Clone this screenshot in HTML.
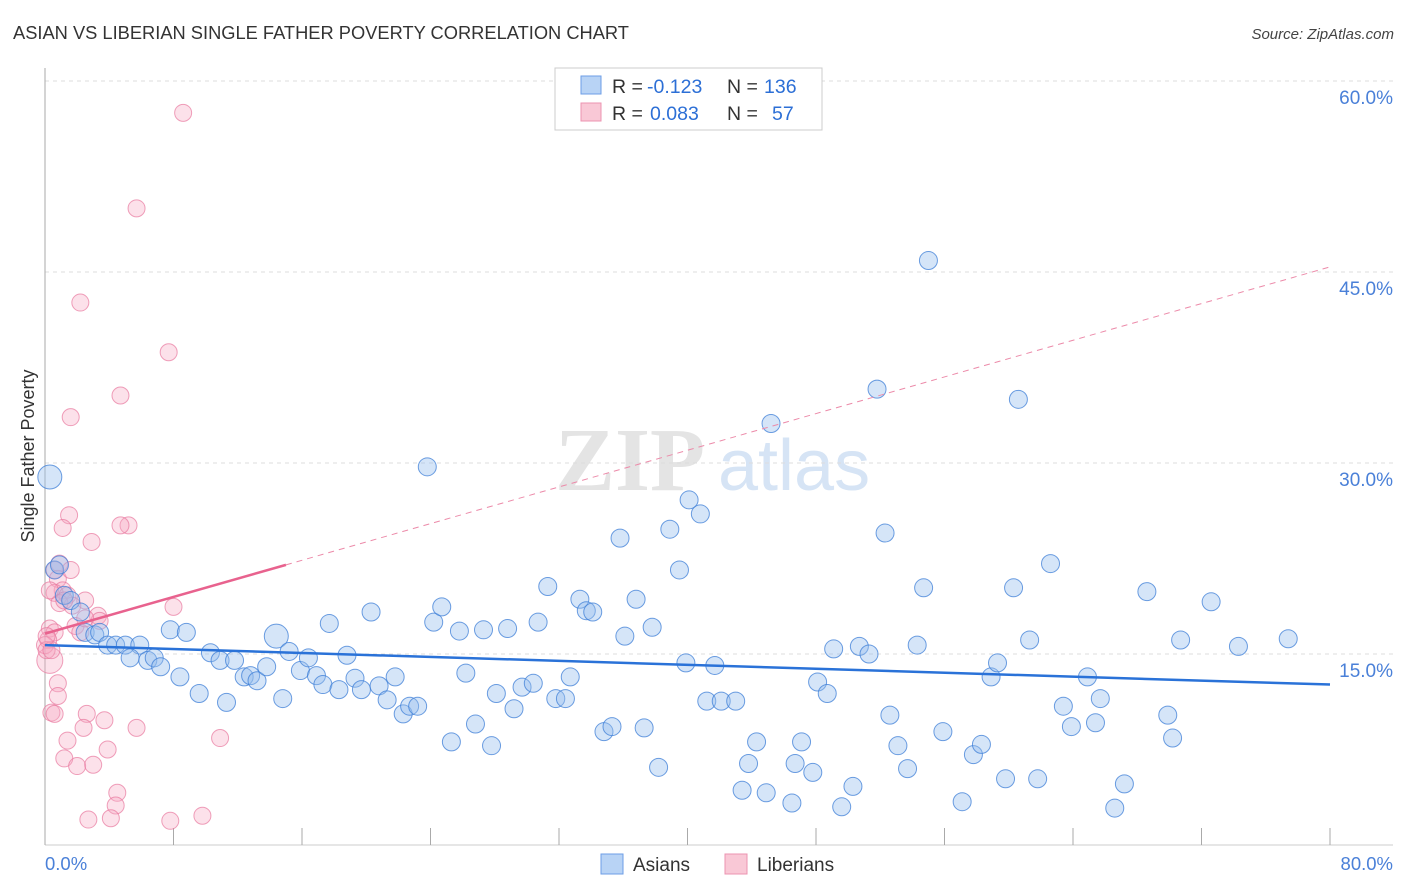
<!DOCTYPE html>
<html><head><meta charset="utf-8"><style>
body{margin:0;background:#fff;font-family:"Liberation Sans",sans-serif;}
svg{display:block}
</style></head><body>
<svg id="chart" width="1406" height="892" xmlns="http://www.w3.org/2000/svg">
<text x="13" y="39" font-size="18.3" fill="#333" font-family="Liberation Sans">ASIAN VS LIBERIAN SINGLE FATHER POVERTY CORRELATION CHART</text>
<text x="1394" y="39" font-size="15" fill="#444" font-style="italic" text-anchor="end">Source: ZipAtlas.com</text>
<g>
<text x="555" y="490" font-size="90" fill="#e4e4e4" font-family="Liberation Serif" font-weight="bold">ZIP</text>
<text x="718" y="490" font-size="72" fill="#d6e4f5">atlas</text>
</g>
<g id="grid"></g>
<g id="axes"></g>
<g id="pts"></g>
<g id="trends"></g>
<text transform="translate(34,456) rotate(-90)" font-size="18" fill="#333" text-anchor="middle">Single Father Poverty</text>
<g>
<rect x="555" y="68" width="267" height="62" fill="#fff" stroke="#ccc"/>
<rect x="581" y="76" width="20" height="18" fill="#b8d3f5" stroke="#6d9ee6"/>
<rect x="581" y="103" width="20" height="18" fill="#f9c8d6" stroke="#ec93b0"/>
<text x="612" y="93" font-size="19.5" fill="#333">R =</text>
<text x="647" y="93" font-size="19.5" fill="#2c6fd6">-0.123</text>
<text x="727" y="93" font-size="19.5" fill="#333">N =</text>
<text x="764" y="93" font-size="19.5" fill="#2c6fd6">136</text>
<text x="612" y="120" font-size="19.5" fill="#333">R =</text>
<text x="650" y="120" font-size="19.5" fill="#2c6fd6">0.083</text>
<text x="727" y="120" font-size="19.5" fill="#333">N =</text>
<text x="772" y="120" font-size="19.5" fill="#2c6fd6">57</text>
</g>
<g>
<rect x="601" y="854" width="22" height="20" fill="#b8d3f5" stroke="#6d9ee6"/>
<text x="633" y="871" font-size="19" fill="#333">Asians</text>
<rect x="725" y="854" width="22" height="20" fill="#f9c8d6" stroke="#ec93b0"/>
<text x="757" y="871" font-size="19" fill="#333">Liberians</text>
</g>
</svg>
<script>
const xTickVals=[0,8,16,24,32,40,48,56,64,72,80];
const yTickVals=[15,30,45,60];
const yTickLabels=["15.0%","30.0%","45.0%","60.0%"];
const xEndLabels=["0.0%","80.0%"];
const asianX=[0.3,0.6,0.9,1.2,1.6,2.2,2.5,3.1,3.4,3.9,4.4,5.0,5.9,5.3,6.4,6.8,7.2,7.8,8.4,8.8,9.6,10.3,10.9,11.3,11.8,12.4,12.8,13.2,13.8,14.4,14.8,15.2,15.9,16.4,16.9,17.3,17.7,18.3,18.8,19.3,19.7,20.3,20.8,21.3,21.8,22.3,22.7,23.2,23.8,24.2,24.7,25.3,25.8,26.2,26.8,27.3,27.8,28.1,28.8,29.2,29.7,30.4,30.7,31.3,31.8,32.4,32.7,33.3,33.7,34.1,34.8,35.3,35.8,36.1,36.8,37.3,37.8,38.2,38.9,39.5,39.9,40.1,40.8,41.2,41.7,42.1,43.0,43.4,43.8,44.3,44.9,45.2,46.5,46.7,47.1,47.8,48.1,48.7,49.1,49.6,50.3,50.7,51.3,51.8,52.3,52.6,53.1,53.7,54.3,54.7,55.0,55.9,57.1,57.8,58.3,58.9,59.3,59.8,60.3,60.6,61.3,61.8,62.6,63.4,63.9,64.9,65.4,65.7,66.6,67.2,68.6,69.9,70.2,70.7,72.6,74.3,77.4];
const asianY=[28.9,21.6,22.0,19.6,19.2,18.3,16.7,16.5,16.7,15.7,15.7,15.7,15.7,14.7,14.5,14.7,14.0,16.9,13.2,16.7,11.9,15.1,14.5,11.2,14.5,13.2,13.3,12.9,14.0,16.4,11.5,15.2,13.7,14.7,13.3,12.6,17.4,12.2,14.9,13.1,12.2,18.3,12.5,11.4,13.2,10.3,10.9,10.9,29.7,17.5,18.7,8.1,16.8,13.5,9.5,16.9,7.8,11.9,17.0,10.7,12.4,12.7,17.5,20.3,11.5,11.5,13.2,19.3,18.4,18.3,8.9,9.3,24.1,16.4,19.3,9.2,17.1,6.1,24.8,21.6,14.3,27.1,26.0,11.3,14.1,11.3,11.3,4.3,6.4,8.1,4.1,33.1,3.3,6.4,8.1,5.7,12.8,11.9,15.4,3.0,4.6,15.6,15.0,35.8,24.5,10.2,7.8,6.0,15.7,20.2,45.9,8.9,3.4,7.1,7.9,13.2,14.3,5.2,20.2,35.0,16.1,5.2,22.1,10.9,9.3,13.2,9.6,11.5,2.9,4.8,19.9,10.2,8.4,16.1,19.1,15.6,16.2];
const asianBig=[0,29];
const libX=[8.6,5.7,2.2,7.7,4.7,1.6,5.2,4.7,1.5,1.1,2.9,0.9,0.6,0.8,1.1,0.6,1.4,2.5,1.7,3.3,8.0,1.9,2.2,0.3,0.6,0.2,0.3,0.8,0.8,0.4,0.6,2.6,3.7,2.4,5.7,10.9,1.4,1.2,2.0,3.0,3.9,4.5,4.4,2.7,4.1,7.8,9.8,0.9,0.3,1.6,0.0,0.1,3.4,2.5,1.2,0.4,0.1];
const libY=[57.5,50.0,42.6,38.7,35.3,33.6,25.1,25.1,25.9,24.9,23.8,22.1,21.6,20.9,20.0,19.8,19.6,19.2,18.8,18.0,18.7,17.2,16.7,17.0,16.7,16.1,14.5,12.7,11.7,10.4,10.3,10.3,9.8,9.2,9.2,8.4,8.2,6.8,6.2,6.3,7.5,4.1,3.1,2.0,2.1,1.9,2.3,19.0,20.0,21.6,15.7,15.3,17.6,17.8,19.2,15.3,16.4];
const libBig=[26];
const asianTrend=[15.7,12.6];
const libTrend=[16.6,45.4];
const libSolidEnd=15;

const NS="http://www.w3.org/2000/svg";
const X0=45,X1=1330,Y0=845,Y15=654;
const sx=v=>X0+(X1-X0)*v/80;
const sy=v=>Y0-(Y0-Y15)*v/15;
function el(t,a,p){const e=document.createElementNS(NS,t);for(const k in a)e.setAttribute(k,a[k]);document.getElementById(p).appendChild(e);return e;}
yTickVals.forEach((v,i)=>{
 const g=el('line',{x1:X0,x2:1393,y1:sy(v),y2:sy(v),stroke:'#ddd','stroke-dasharray':'4,4'},'grid');
 
 
 const t=el('text',{x:1393,y:sy(v)+23,'font-size':19,fill:'#4a80d8','text-anchor':'end'},'axes');
 t.textContent=yTickLabels[i];
 
 
});
const ya=el('line',{x1:X0,x2:X0,y1:68,y2:Y0,stroke:'#aaa'},'axes');


const xa=el('line',{x1:X0,x2:1393,y1:Y0,y2:Y0,stroke:'#ccc'},'axes');


xTickVals.forEach(v=>{
 const l=el('line',{x1:sx(v),x2:sx(v),y1:828,y2:Y0,stroke:'#aaa'},'axes');
 
 
});
const xl0=el('text',{x:X0,y:870,'font-size':18.5,fill:'#4a80d8'},'axes');xl0.textContent=xEndLabels[0];


const xl1=el('text',{x:1393,y:870,'font-size':18.5,fill:'#4a80d8','text-anchor':'end'},'axes');xl1.textContent=xEndLabels[1];


libX.forEach((x,i)=>{
 const c=el('circle',{cx:sx(x),cy:sy(libY[i]),r:libBig.includes(i)?13:8.5,fill:'rgba(246,170,194,0.35)',stroke:'rgba(232,120,158,0.7)','stroke-width':1},'pts');
 
 
});
asianX.forEach((x,i)=>{
 const c=el('circle',{cx:sx(x),cy:sy(asianY[i]),r:asianBig.includes(i)?12:9,fill:'rgba(150,190,238,0.4)',stroke:'rgba(60,125,215,0.75)','stroke-width':1},'pts');
 
 
});
const at=el('line',{x1:sx(0),y1:sy(asianTrend[0]),x2:sx(80),y2:sy(asianTrend[1]),stroke:'#2a72d8','stroke-width':2.5},'trends');


const lm=(libTrend[1]-libTrend[0])/80;
const ld=el('line',{x1:sx(libSolidEnd),y1:sy(libTrend[0]+lm*libSolidEnd),x2:sx(80),y2:sy(libTrend[1]),stroke:'#ec8aa9','stroke-width':1,'stroke-dasharray':'6,5'},'trends');


const ls=el('line',{x1:sx(0),y1:sy(libTrend[0]),x2:sx(libSolidEnd),y2:sy(libTrend[0]+lm*libSolidEnd),stroke:'#e8628e','stroke-width':2.5},'trends');


</script>
</body></html>
